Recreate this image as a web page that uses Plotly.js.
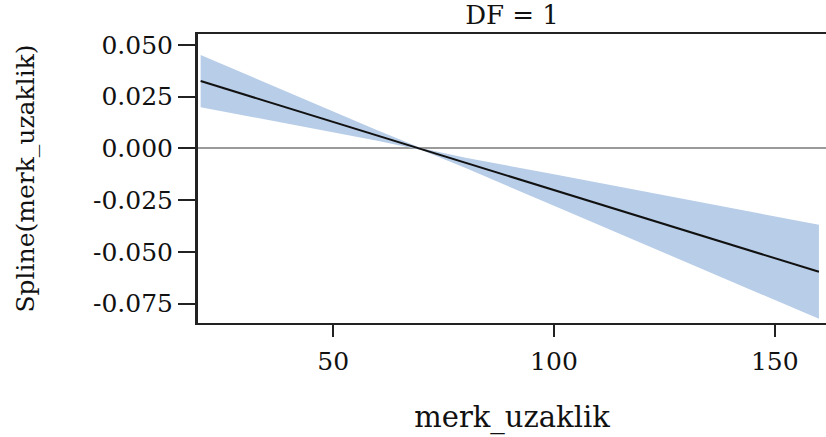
<!DOCTYPE html>
<html>
<head>
<meta charset="utf-8">
<script src="https://cdn.plot.ly/plotly-3.0.1.min.js"></script>
<style>html,body{margin:0;padding:0;background:#fff;}#chart{width:826px;height:437px;}</style>
</head>
<body>
<div id="chart"></div>
<script>
// Data
const xVals = [20, 40, 60, 70, 80, 100, 120, 140, 160];
const fitVals = [0.0325, 0.0193, 0.0062, -0.0004, -0.0070, -0.0201, -0.0333, -0.0464, -0.0596];
const upperVals = [0.0451, 0.0269, 0.0087, 0.0000, -0.0045, -0.0125, -0.0207, -0.0288, -0.0369];
const lowerVals = [0.0199, 0.0117, 0.0037, -0.0008, -0.0095, -0.0277, -0.0459, -0.0640, -0.0823];
const yTickVals = [0.05, 0.025, 0, -0.025, -0.05, -0.075];
const yTickText = ["0.050", "0.025", "0.000", "-0.025", "-0.050", "-0.075"];
const xTickVals = [50, 100, 150];
const xTickText = ["50", "100", "150"];

const FONT = "DejaVu Serif, Liberation Serif, serif";

const band = {
  x: xVals.concat(xVals.slice().reverse()),
  y: upperVals.concat(lowerVals.slice().reverse()),
  type: 'scatter', mode: 'lines', fill: 'toself',
  fillcolor: '#b8cde7', line: {width: 0, color: 'rgba(0,0,0,0)'},
  hoverinfo: 'skip', showlegend: false
};
const fit = {
  x: xVals, y: fitVals, type: 'scatter', mode: 'lines',
  line: {color: '#111111', width: 2}, showlegend: false
};

const layout = {
  width: 826, height: 437,
  margin: {l: 198, r: 0, t: 34, b: 114},
  paper_bgcolor: '#ffffff', plot_bgcolor: '#ffffff',
  showlegend: false,
  title: {text: 'DF = 1', font: {family: FONT, size: 26, color: '#111'},
          x: 0.5, xref: 'paper', xanchor: 'center', y: 0.966, yref: 'container', yanchor: 'middle'},
  xaxis: {
    range: [19.4, 161.6], showgrid: false, zeroline: false,
    showline: true, linecolor: '#222', linewidth: 2, mirror: true,
    ticks: 'outside', ticklen: 12, tickwidth: 2, tickcolor: '#222',
    tickvals: xTickVals, ticktext: xTickText, ticklabelstandoff: 3,
    tickfont: {family: FONT, size: 25, color: '#111'},
    title: {text: 'merk_uzaklik', font: {family: FONT, size: 29, color: '#111'}, standoff: 32}
  },
  yaxis: {
    range: [-0.0843, 0.0552], showgrid: false,
    zeroline: true, zerolinecolor: '#9a9a9a', zerolinewidth: 2,
    showline: true, linecolor: '#222', linewidth: 3, mirror: false,
    ticks: 'outside', ticklen: 17, tickwidth: 2, tickcolor: '#222',
    tickvals: yTickVals, ticktext: yTickText,
    tickfont: {family: FONT, size: 25, color: '#111'},
    title: {text: 'Spline(merk_uzaklik)', font: {family: FONT, size: 25, color: '#111'}, standoff: 52}
  }
};

Plotly.newPlot('chart', [band, fit], layout, {displayModeBar: false, staticPlot: true});
</script>
</body>
</html>
